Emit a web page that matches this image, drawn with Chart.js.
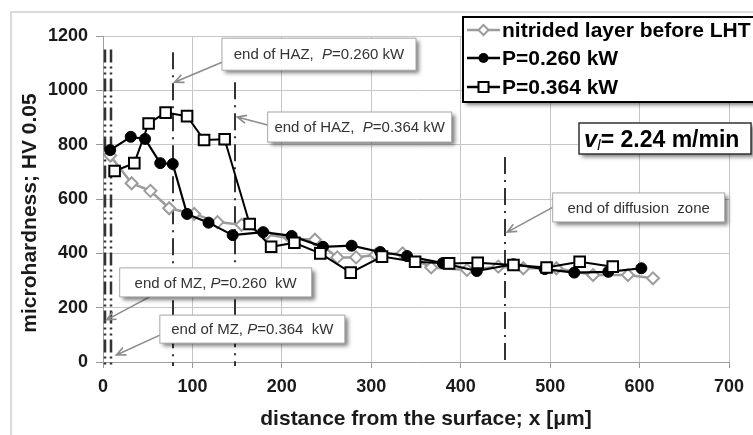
<!DOCTYPE html>
<html>
<head>
<meta charset="utf-8">
<script src="https://cdn.jsdelivr.net/npm/chart.js@4.4.0/dist/chart.umd.min.js"></script>
<style>
  html, body { margin: 0; padding: 0; background: #fff; }
  #wrap { width: 753px; height: 435px; }
</style>
</head>
<body>
<div id="wrap"><canvas id="c" width="753" height="435"></canvas></div>
<script>
// Microhardness HV 0.05 versus depth below the surface (µm)
const nitridedX = [8, 32, 53, 74, 102, 128, 155, 182, 210, 237, 262, 283, 305, 335, 367, 407, 442, 470, 507, 548, 587, 615];
const nitridedY = [760, 658, 630, 566, 545, 515, 505, 470, 455, 450, 385, 385, 395, 400, 348, 339, 351, 345, 345, 320, 320, 308];

const p260X = [8, 31, 47, 64, 78, 94, 118, 145, 179, 211, 246, 278, 310, 340, 380, 418, 459, 494, 527, 565, 602];
const p260Y = [780, 829, 821, 732, 729, 545, 513, 467, 478, 464, 424, 428, 405, 390, 364, 335, 360, 342, 329, 332, 345];

const p364X = [13, 35, 51, 70, 94, 113, 136, 164, 188, 214, 243, 277, 312, 349, 387, 419, 459, 496, 533, 570];
const p364Y = [703, 732, 878, 918, 905, 817, 820, 508, 424, 439, 400, 329, 388, 369, 363, 365, 357, 348, 369, 351];

const xTickValues = [0, 100, 200, 300, 400, 500, 600, 700];
const yTickValues = [0, 200, 400, 600, 800, 1000, 1200];

const seriesNames = ['nitrided layer before LHT', 'P=0.260 kW', 'P=0.364 kW'];

// Zone boundaries: depth (µm) and the hardness level each marker line reaches up to
const boundaryX = [2, 9, 78, 148, 450];
const boundaryTop = [1150, 1150, 1140, 1030, 755];

// Callouts: label text and the point (µm, HV) its arrow points at
const calloutText = ['end of HAZ,  P=0.260 kW', 'end of HAZ,  P=0.364 kW', 'end of MZ, P=0.260  kW', 'end of MZ, P=0.364  kW', 'end of diffusion  zone'];
const calloutTipX = [80, 150, 4, 15, 452];
const calloutTipY = [1030, 902, 155, 26, 478];

// Callout box placement: centre in axis units, size in px, arrow tail offset from centre in px
const calloutBox = [
  { cx: 241.5, cy: 1133, w: 194, h: 32, tx: -97, ty: 8 },
  { cx: 287, cy: 865, w: 184, h: 30, tx: -92, ty: -2 },
  { cx: 126, cy: 293, w: 192, h: 29, tx: -66, ty: 14.5 },
  { cx: 167, cy: 121, w: 185, h: 28, tx: -92.5, ty: 6 },
  { cx: 599, cy: 569, w: 172, h: 29, tx: -86, ty: 0 }
];

const FONT = '"Liberation Sans", Arial, Helvetica, sans-serif';
const GRAY = '#9c9c9c';

const pts = (xs, ys) => xs.map((v, i) => ({ x: v, y: ys[i] }));

function drawMarker(c, kind, x, y, s) {
  c.save();
  c.lineWidth = 2;
  if (kind === 'diamond') {
    c.strokeStyle = GRAY; c.fillStyle = '#fff';
    c.beginPath(); c.moveTo(x, y - s); c.lineTo(x + s, y); c.lineTo(x, y + s); c.lineTo(x - s, y); c.closePath();
    c.fill(); c.stroke();
  } else if (kind === 'circle') {
    c.fillStyle = '#000';
    c.beginPath(); c.arc(x, y, s, 0, Math.PI * 2); c.fill();
  } else {
    c.strokeStyle = '#000'; c.fillStyle = '#fff';
    c.fillRect(x - s, y - s, 2 * s, 2 * s); c.strokeRect(x - s, y - s, 2 * s, 2 * s);
  }
  c.restore();
}

function shadowBox(c, x, y, w, h, border, lw, blur, off) {
  c.save();
  c.shadowColor = 'rgba(0,0,0,0.5)'; c.shadowBlur = blur; c.shadowOffsetX = off; c.shadowOffsetY = off;
  c.fillStyle = '#fff'; c.fillRect(x, y, w, h);
  c.restore();
  c.save();
  c.strokeStyle = border; c.lineWidth = lw; c.strokeRect(x, y, w, h);
  c.restore();
}

function arrow(c, x0, y0, x1, y1) {
  const a = Math.atan2(y1 - y0, x1 - x0), L = 10, sp = 0.42;
  c.save();
  c.strokeStyle = '#8c8c8c'; c.lineWidth = 1.6;
  c.beginPath(); c.moveTo(x0, y0); c.lineTo(x1, y1);
  c.moveTo(x1 - L * Math.cos(a - sp), y1 - L * Math.sin(a - sp)); c.lineTo(x1, y1);
  c.lineTo(x1 - L * Math.cos(a + sp), y1 - L * Math.sin(a + sp));
  c.stroke();
  c.restore();
}

const decor = {
  id: 'decor',
  beforeDraw(chart) {
    const c = chart.ctx;
    c.save();
    c.fillStyle = '#fff'; c.fillRect(0, 0, chart.width, chart.height);
    c.strokeStyle = '#cfcfcf'; c.lineWidth = 1.5;
    c.beginPath(); c.moveTo(11, chart.height); c.lineTo(11, 12); c.lineTo(chart.width, 12); c.stroke();
    c.restore();
  },
  beforeDatasetsDraw(chart) {
    const c = chart.ctx, x = chart.scales.x, y = chart.scales.y;
    c.save();
    c.strokeStyle = '#333'; 
    boundaryX.forEach((v, i) => {
      c.lineWidth = i < 2 ? 2.5 : 2;
      c.setLineDash(i < 2 ? [13, 4, 2, 4, 2, 4] : [17, 6, 2, 6]);
      const px = Math.round(x.getPixelForValue(v));
      c.beginPath();
      c.moveTo(px, y.getPixelForValue(boundaryTop[i]));
      c.lineTo(px, y.getPixelForValue(0) + 4);
      c.stroke();
    });
    c.restore();
  },
  afterDraw(chart) {
    const c = chart.ctx, x = chart.scales.x, y = chart.scales.y;

    // callouts with arrows
    calloutText.forEach((t, i) => {
      const b = calloutBox[i];
      const cx = x.getPixelForValue(b.cx), cy = y.getPixelForValue(b.cy);
      arrow(c, cx + b.tx, cy + b.ty, x.getPixelForValue(calloutTipX[i]), y.getPixelForValue(calloutTipY[i]));
      shadowBox(c, cx - b.w / 2, cy - b.h / 2, b.w, b.h, '#a8a8a8', 1, 4, 3);
      const k = t.indexOf('P=');
      const parts = k < 0 ? [[t, '']] : [[t.slice(0, k), ''], ['P', 'italic '], [t.slice(k + 1), '']];
      c.save();
      c.fillStyle = '#333'; c.textBaseline = 'middle';
      let total = 0;
      parts.forEach(p => { c.font = p[1] + '15px ' + FONT; total += c.measureText(p[0]).width; });
      let px = cx - total / 2;
      parts.forEach(p => { c.font = p[1] + '15px ' + FONT; c.fillText(p[0], px, cy + 1); px += c.measureText(p[0]).width; });
      c.restore();
    });

    // legend
    shadowBox(c, 463, 17, 310, 85, '#000', 2, 4, 3);
    const rows = [30, 58, 87];
    const kinds = ['diamond', 'circle', 'square'];
    rows.forEach((ry, i) => {
      c.save();
      c.strokeStyle = i === 0 ? GRAY : '#000'; c.lineWidth = 2.5;
      c.beginPath(); c.moveTo(467, ry); c.lineTo(500, ry); c.stroke();
      c.restore();
      drawMarker(c, kinds[i], 483.5, ry, 5);
      c.save();
      c.fillStyle = '#000'; c.font = 'bold 21px ' + FONT; c.textBaseline = 'middle';
      c.fillText(seriesNames[i], 502, ry + 1);
      c.restore();
    });

    // travel speed label
    shadowBox(c, 579, 123, 172, 31, '#333', 1.5, 4, 3);
    c.save();
    c.fillStyle = '#000'; c.textBaseline = 'alphabetic';
    let vx = 584;
    c.font = 'bold italic 24px ' + FONT; c.fillText('v', vx, 147); vx += c.measureText('v').width;
    c.font = 'italic 15px ' + FONT; c.fillText('l', vx, 150); vx += c.measureText('l').width;
    c.font = 'bold 23px ' + FONT; c.fillText('= 2.24 m/min', vx, 147);
    c.restore();

    // axis titles
    c.save();
    c.fillStyle = '#1a1a1a'; c.font = 'bold 21px ' + FONT; c.textAlign = 'center'; c.textBaseline = 'middle';
    c.fillText('distance from the surface; x [μm]', 426, 419);
    c.translate(30, 213); c.rotate(-Math.PI / 2);
    c.fillText('microhardness; HV 0.05', 0, 0);
    c.restore();
  }
};

new Chart(document.getElementById('c'), {
  type: 'scatter',
  data: {
    datasets: [
      {
        label: seriesNames[2], data: pts(p364X, p364Y), showLine: true, order: 1,
        borderColor: '#000', borderWidth: 2, pointStyle: 'rect', pointRadius: 7.5, pointHoverRadius: 7.5,
        pointBackgroundColor: '#fff', pointBorderColor: '#000', pointBorderWidth: 2
      },
      {
        label: seriesNames[1], data: pts(p260X, p260Y), showLine: true, order: 2,
        borderColor: '#000', borderWidth: 2.2, pointStyle: 'circle', pointRadius: 5.5, pointHoverRadius: 5.5,
        pointBackgroundColor: '#000', pointBorderColor: '#000', pointBorderWidth: 1
      },
      {
        label: seriesNames[0], data: pts(nitridedX, nitridedY), showLine: true, order: 3,
        borderColor: GRAY, borderWidth: 2.5, pointStyle: 'rectRot', pointRadius: 6, pointHoverRadius: 6,
        pointBackgroundColor: '#fff', pointBorderColor: GRAY, pointBorderWidth: 2
      }
    ]
  },
  options: {
    responsive: false,
    animation: false,
    devicePixelRatio: 1,
    layout: { padding: { left: 11, right: 24, top: 36, bottom: 0 } },
    plugins: { legend: { display: false }, tooltip: { enabled: false } },
    scales: {
      x: {
        type: 'linear', min: 0, max: 700,
        afterBuildTicks: s => { s.ticks = xTickValues.map(v => ({ value: v })); },
        afterFit: s => { s.height = 73; },
        grid: { color: '#c6c6c6', lineWidth: 1, tickLength: 6, tickColor: '#999' },
        border: { color: '#a0a0a0', width: 1 },
        ticks: { color: '#1a1a1a', font: { family: FONT, size: 18, weight: 'bold' }, padding: 8, maxRotation: 0, callback: v => String(v) }
      },
      y: {
        min: 0, max: 1200,
        afterBuildTicks: s => { s.ticks = yTickValues.map(v => ({ value: v })); },
        afterFit: s => { s.width = 92; },
        grid: { color: '#c6c6c6', lineWidth: 1, tickLength: 7, tickColor: '#999' },
        border: { color: '#a0a0a0', width: 1 },
        ticks: { color: '#1a1a1a', font: { family: FONT, size: 18, weight: 'bold' }, padding: 8, callback: v => String(v) }
      }
    }
  },
  plugins: [decor]
});
</script>
</body>
</html>
